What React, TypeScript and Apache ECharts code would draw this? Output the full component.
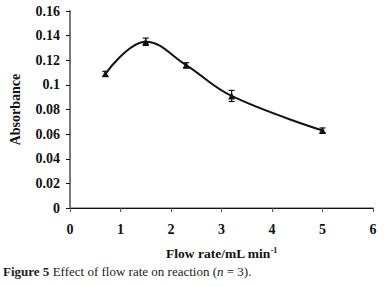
import React, { useEffect, useRef } from "react";
import * as echarts from "echarts";

const flowRate = [0.7, 1.5, 2.3, 3.2, 5];
const absorbance = [0.109, 0.135, 0.116, 0.091, 0.063];
const errors = [0.002, 0.003, 0.002, 0.0045, 0.002];
const xTicks = [0, 1, 2, 3, 4, 5, 6];
const yTickLabels = ["0", "0.02", "0.04", "0.06", "0.08", "0.1", "0.12", "0.14", "0.16"];

const FONT = "'Liberation Serif', 'Times New Roman', serif";

export default function App() {
  const ref = useRef<HTMLDivElement>(null);
  useEffect(() => {
    const chart = echarts.init(ref.current!, null, { renderer: "svg" });
    const lineData = flowRate.map((x, i) => [x, absorbance[i]]);
    const errData = flowRate.map((x, i) => [x, absorbance[i] - errors[i], absorbance[i] + errors[i]]);
    chart.setOption({
      animation: false,
      backgroundColor: "#fff",
      textStyle: { fontFamily: FONT },
      grid: { left: 67, top: 11, right: 12, bottom: 78, containLabel: false },
      xAxis: [
        {
          type: "value",
          min: 0,
          max: 6,
          interval: 1,
          name: "{a|Flow rate/mL min}{s|-1}",
          nameLocation: "middle",
          nameGap: 38,
          nameTextStyle: {
            rich: {
              a: { fontFamily: FONT, fontWeight: "bold", fontSize: 13.5, color: "#111" },
              s: { fontFamily: FONT, fontWeight: "bold", fontSize: 8, color: "#111", verticalAlign: "top", padding: [0, 0, 6, 0] },
            },
          },
          axisLine: { lineStyle: { color: "#888", width: 1.5 } },
          axisTick: { show: true, length: 4, lineStyle: { color: "#555" } },
          axisLabel: {
            fontFamily: FONT,
            fontWeight: "bold",
            fontSize: 14,
            color: "#111",
            margin: 14,
            formatter: (v: number) => (xTicks.includes(v) ? String(v) : ""),
          },
          splitLine: { show: false },
        },
        {
          type: "value",
          position: "top",
          min: 0,
          max: 6,
          axisLine: { show: true, lineStyle: { color: "#111", width: 1.2 } },
          axisTick: { show: false },
          axisLabel: { show: false },
          splitLine: { show: false },
        },
      ],
      yAxis: [
        {
          type: "value",
          min: 0,
          max: 0.16,
          interval: 0.02,
          name: "Absorbance",
          nameLocation: "middle",
          nameGap: 48,
          nameTextStyle: { fontFamily: FONT, fontWeight: "bold", fontSize: 14, color: "#111" },
          axisLine: { show: true, lineStyle: { color: "#111", width: 1.5 } },
          axisTick: { show: true, length: 4, lineStyle: { color: "#111" } },
          axisLabel: {
            fontFamily: FONT,
            fontWeight: "bold",
            fontSize: 14,
            color: "#111",
            margin: 10,
            formatter: (v: number) => yTickLabels[Math.round(v / 0.02)] ?? "",
          },
          splitLine: { show: false },
        },
        {
          type: "value",
          position: "right",
          min: 0,
          max: 0.16,
          axisLine: { show: true, lineStyle: { color: "#888", width: 1.5 } },
          axisTick: { show: false },
          axisLabel: { show: false },
          splitLine: { show: false },
        },
      ],
      series: [
        {
          type: "line",
          data: lineData,
          smooth: 0.4,
          symbol: "triangle",
          symbolSize: 7,
          lineStyle: { color: "#111", width: 2 },
          itemStyle: { color: "#111" },
          z: 3,
        },
        {
          type: "custom",
          data: errData,
          z: 4,
          renderItem: (params: any, api: any) => {
            const x = api.value(0);
            const lo = api.coord([x, api.value(1)]);
            const hi = api.coord([x, api.value(2)]);
            const w = 3;
            const style = { stroke: "#111", lineWidth: 1.2 };
            return {
              type: "group",
              children: [
                { type: "line", shape: { x1: lo[0], y1: lo[1], x2: hi[0], y2: hi[1] }, style },
                { type: "line", shape: { x1: lo[0] - w, y1: lo[1], x2: lo[0] + w, y2: lo[1] }, style },
                { type: "line", shape: { x1: hi[0] - w, y1: hi[1], x2: hi[0] + w, y2: hi[1] }, style },
              ],
            };
          },
        },
      ],
      graphic: [
        {
          type: "text",
          left: 3,
          top: 265,
          style: {
            text: "{b|Figure 5} {n|Effect of flow rate on reaction (}{i|n}{n| = 3).}",
            rich: {
              b: { fontFamily: FONT, fontWeight: "bold", fontSize: 13, fill: "#222" },
              n: { fontFamily: FONT, fontSize: 13, fill: "#222" },
              i: { fontFamily: FONT, fontStyle: "italic", fontSize: 13, fill: "#222" },
            },
          },
        },
      ],
    });
    return () => chart.dispose();
  }, []);
  return (
    <div
      ref={ref}
      style={{ position: "fixed", left: 0, top: 0, width: 385, height: 286, background: "#fff" }}
    />
  );
}
